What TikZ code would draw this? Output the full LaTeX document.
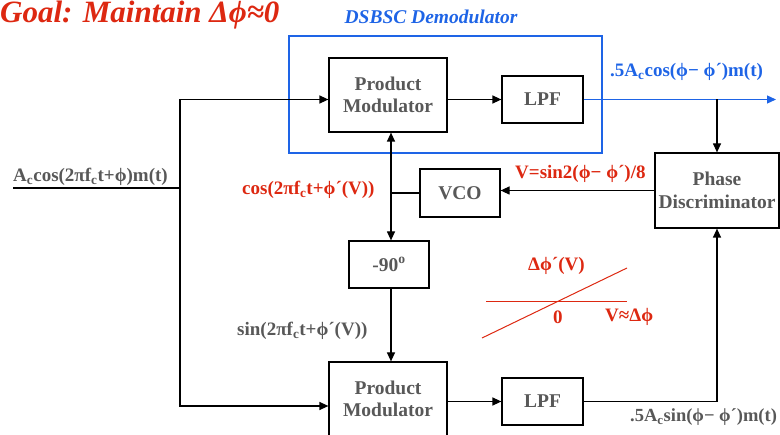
\documentclass[tikz,border=0pt]{standalone}
\usepackage{fontspec}
\setmainfont{Liberation Serif}
\usetikzlibrary{arrows.meta,calc}
\definecolor{tred}{RGB}{221,40,17}
\definecolor{tblue}{RGB}{30,100,230}
\definecolor{tgray}{RGB}{88,88,88}
\newcommand{\sbc}{\textsubscript{c}}
\begin{document}
\begin{tikzpicture}[x=1pt,y=-1pt,
  box/.style={draw=black, line width=1.2pt, inner sep=0pt, align=center,
    font=\fontsize{19.5}{22.5}\selectfont\bfseries, text=tgray},
  lbl/.style={inner sep=0pt, anchor=base west, font=\fontsize{19}{22}\selectfont\bfseries},
  wire/.style={line width=1.2pt, draw=black},
  arr/.style={wire, -{Triangle[length=9pt,width=8pt]}}]
\useasboundingbox (0,0) rectangle (780,435);
\clip (0,0) rectangle (780,435);

% title
\node[lbl, text=tred, font=\fontsize{31}{36}\selectfont\bfseries\itshape] (title) at (0,23) {Goal: Maintain Δϕ≈0};

% blue demodulator frame
\node[draw=tblue, line width=1.1pt, minimum width=313, minimum height=117, inner sep=0pt] (dsb) at (445.5,94.5) {};
\node[inner sep=0pt, anchor=base, text=tblue, font=\fontsize{19.5}{22}\selectfont\bfseries\itshape] (dsblbl) at (431,24) {DSBSC Demodulator};

% blocks
\node[box, minimum width=118, minimum height=74] (pmt) at (388,95) {Product\\Modulator};
\node[box, minimum width=81, minimum height=47] (lpft) at (542.5,99.5) {LPF};
\node[box, minimum width=124, minimum height=75] (pd) at (717,190.5) {Phase\\Discriminator};
\node[box, minimum width=80, minimum height=48] (vco) at (460,193) {VCO};
\node[box, minimum width=80, minimum height=47] (n90) at (389,264.5) {-90\textsuperscript{o}};
\node[box, minimum width=118, minimum height=74] (pmb) at (388,399) {Product\\Modulator};
\node[box, minimum width=81, minimum height=47] (lpfb) at (542.5,401.5) {LPF};

% connectors
\coordinate (in) at (13,188);
\coordinate (split) at (180,188);
\coordinate (out) at (776,99.5);
\coordinate (j) at (391,193);
\draw[wire] (in) -- (split);
\draw[arr] (split) |- (lpft.west -| pmt.west);
\draw[arr] (split) |- ($(pmb.west)+(0,7)$);
\draw[arr] (lpft.west -| pmt.east) -- (lpft.west);
\draw[arr, draw=tblue, -{Triangle[length=9pt,width=8pt,fill=tblue]}] (lpft.east) -- (out);
\coordinate (tap) at (pd.north |- lpft.east);
\draw[arr] (tap) -- (pd.north);
\draw[arr] (pd.west) -- (pd.west -| vco.east);
\draw[wire] (vco.west) -- (j);
\draw[arr] (j) -- (pmt.south -| j);
\draw[arr] (j) -- (n90.north -| j);
\draw[arr] (n90.south -| j) -- (pmb.north -| j);
\draw[arr] (lpfb.west -| pmb.east) -- (lpfb.west);
\draw[arr] (lpfb.east) -| (pd.south);

% signal labels
\node[lbl, text=tgray] (inlbl) at (13,182) {A\sbc cos(2πf\sbc t+ϕ)m(t)};
\node[lbl, text=tblue] (outlbl) at (610,77) {.5A\sbc cos(ϕ− ϕ´)m(t)};
\node[lbl, text=tred] (vlbl) at (515,179) {V=sin2(ϕ− ϕ´)/8};
\node[lbl, text=tred] (coslbl) at (242,195) {cos(2πf\sbc t+ϕ´(V))};
\node[lbl, text=tgray] (sinlbl) at (237,336) {sin(2πf\sbc t+ϕ´(V))};
\node[lbl, text=tgray, font=\fontsize{18.5}{22}\selectfont\bfseries] (qlbl) at (630,422) {.5A\sbc sin(ϕ− ϕ´)m(t)};

% characteristic sketch
\coordinate (ha) at (486,302);
\coordinate (hb) at (627,302);
\coordinate (da) at (482,338);
\coordinate (db) at (627,268);
\draw[tred, line width=1pt] (ha) -- (hb);
\draw[tred, line width=1pt] (da) -- (db);
\node[lbl, text=tred] (dlbl) at (528,271) {Δϕ´(V)};
\node[lbl, text=tred] (zlbl) at (553,324) {0};
\node[lbl, text=tred] (vdlbl) at (605,322) {V≈Δϕ};
\end{tikzpicture}
\end{document}
